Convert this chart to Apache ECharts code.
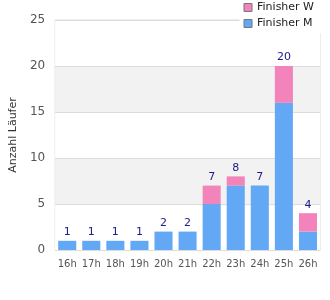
<!DOCTYPE html>
<html>
<head>
<meta charset="utf-8">
<script src="https://cdn.jsdelivr.net/npm/echarts@6/dist/echarts.min.js"></script>
<style>
  html, body { margin: 0; padding: 0; background: #fff; }
  #chart { width: 330px; height: 300px; }
</style>
</head>
<body>
<div id="chart"></div>
<script>
// Zielzeit-Kategorien und Finisher je Kategorie
const categories = ['16h', '17h', '18h', '19h', '20h', '21h', '22h', '23h', '24h', '25h', '26h']
const finisherM = [1, 1, 1, 1, 2, 2, 5, 7, 7, 16, 2]
const finisherW = [0, 0, 0, 0, 0, 0, 2, 1, 0, 4, 2]
const totals = finisherM.map((v, i) => v + finisherW[i])

const myChart = echarts.init(document.getElementById('chart'))

const option = {
  backgroundColor: '#fff',
  textStyle: { fontFamily: 'DejaVu Sans' },
  animation: false,
  legend: {
    orient: 'vertical',
    top: 0,
    right: 4,
    padding: [2, 12, 4, 4],
    itemGap: 5,
    itemWidth: 8,
    itemHeight: 8,
    icon: 'rect',
    backgroundColor: '#fff',
    textStyle: { color: '#222', fontSize: 11 },
    data: [
      { name: 'Finisher W', itemStyle: { borderColor: '#777', borderWidth: 1 } },
      { name: 'Finisher M', itemStyle: { borderColor: '#777', borderWidth: 1 } }
    ]
  },
  grid: {
    left: 50,
    right: 10,
    top: 20,
    bottom: 50,
    show: true,
    borderColor: '#dcdcdc',
    borderWidth: 1
  },
  xAxis: {
    type: 'category',
    data: categories,
    axisLine: { lineStyle: { color: '#dcdcdc' } },
    axisTick: { show: false },
    axisLabel: { color: '#555', fontSize: 10, margin: 9, interval: 0 }
  },
  yAxis: {
    type: 'value',
    min: 0,
    max: 25,
    interval: 5,
    name: 'Anzahl Läufer',
    nameLocation: 'middle',
    nameGap: 36,
    nameTextStyle: { color: '#333', fontSize: 11 },
    axisLine: { show: false },
    axisTick: { show: false },
    axisLabel: { color: '#555', fontSize: 12, margin: 10 },
    splitLine: { lineStyle: { color: '#dcdcdc' } },
    splitArea: { show: true, areaStyle: { color: ['#ffffff', '#f2f2f2'] } }
  },
  series: [
    {
      name: 'Finisher M',
      type: 'bar',
      stack: 'alle',
      barCategoryGap: '25%',
      itemStyle: { color: '#62a8f5' },
      data: finisherM
    },
    {
      name: 'Finisher W',
      type: 'bar',
      stack: 'alle',
      barCategoryGap: '25%',
      itemStyle: { color: '#f283bb' },
      label: {
        show: true,
        position: 'top',
        distance: 3,
        color: '#1a1a8c',
        fontSize: 11,
        formatter: p => totals[p.dataIndex]
      },
      data: finisherW
    }
  ]
}
myChart.setOption(option)
</script>
</body>
</html>
